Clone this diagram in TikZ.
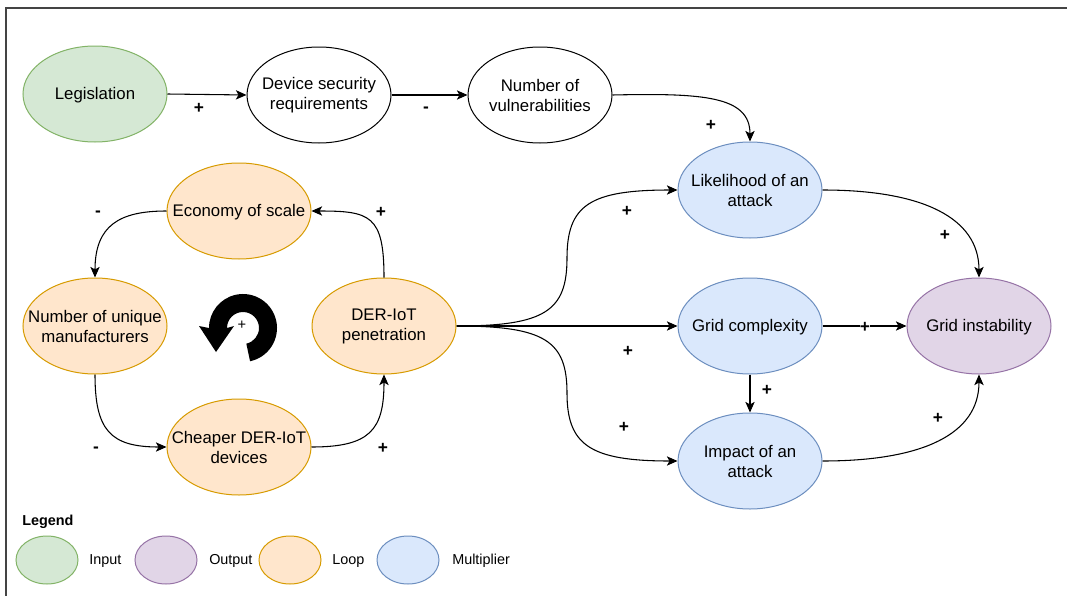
\documentclass[tikz,border=0pt]{standalone}
\usepackage{fontspec}
\setmainfont{Liberation Sans}
\usetikzlibrary{arrows.meta,shapes.geometric}
\definecolor{gfill}{HTML}{D5E8D4}\definecolor{gline}{HTML}{82B366}
\definecolor{pfill}{HTML}{E1D5E7}\definecolor{pline}{HTML}{9673A6}
\definecolor{ofill}{HTML}{FFE6CC}\definecolor{oline}{HTML}{D79B00}
\definecolor{bfill}{HTML}{DAE8FC}\definecolor{bline}{HTML}{6C8EBF}
\definecolor{framec}{HTML}{444444}
\begin{document}
\begin{tikzpicture}[x=0.75pt,y=-0.75pt,
  ell/.style={ellipse, draw, line width=0.75pt, minimum width=108pt, minimum height=72pt, inner sep=0pt},
  plainell/.style={ell, draw=black, fill=white},
  inp/.style={ell, fill=gfill, draw=gline},
  outp/.style={ell, fill=pfill, draw=pline},
  loopn/.style={ell, fill=ofill, draw=oline},
  mult/.style={ell, fill=bfill, draw=bline},
  small/.style={minimum width=46.5pt, minimum height=36pt},
  txt/.style={font=\fontsize{12.6}{15}\selectfont, align=center, inner sep=0pt},
  legtxt/.style={font=\fontsize{10.8}{13}\selectfont, inner sep=0pt, anchor=west},
  sgn/.style={font=\fontsize{13}{14}\selectfont\bfseries, inner sep=0pt},
  conn/.style={draw=black, line width=0.8pt, -{Stealth[length=8pt,width=7pt,inset=2pt]}}]
\useasboundingbox (0,0) rectangle (1067,596);
\fill[white] (0,0) rectangle (1067,596);
% frame
\draw[framec, line width=1.5pt] (1067,8) -- (6,8) -- (6,596);

% top row
\node[inp] (leg) at (95,94) {};
\node[txt] at (95,95) {Legislation};
\node[plainell] (dev) at (319,95) {};
\node[txt] at (dev) {Device security\\requirements};
\node[plainell] (vul) at (540,95) {};
\node[txt] at (vul) {Number of\\vulnerabilities};

% loop
\node[loopn] (eco) at (239,211) {};
\node[txt] at (239,212) {Economy of scale};
\node[loopn] (num) at (95,326) {};
\node[txt] at (num) {Number of unique\\manufacturers};
\node[loopn] (der) at (384,326) {};
\node[txt] at (der) {DER-IoT\\penetration};
\node[loopn] (che) at (239,447) {};
\node[txt] at (che) {Cheaper DER-IoT\\devices};

% multipliers
\node[mult] (lik) at (750,190) {};
\node[txt] at (lik) {Likelihood of an\\attack};
\node[mult] (gc) at (750,326) {};
\node[txt] at (750,327) {Grid complexity};
\node[mult] (imp) at (750,461) {};
\node[txt] at (imp) {Impact of an\\attack};
\node[outp] (gi) at (979,326) {};
\node[txt] at (979,327) {Grid instability};

% loop icon
\begin{scope}[shift={(243,328)}]
 \begin{scope}[x=0.75pt,y=0.75pt]
  \fill[black] (-78:34) arc[start angle=-78,end angle=180,radius=34] -- (-44,2) -- (-27,-24) -- (-9,2) -- (-16,0) arc[start angle=180,end angle=-78,radius=16] -- cycle;
 \end{scope}
\end{scope}
\node[font=\fontsize{11}{12}\selectfont, inner sep=0pt] (plusicon) at (242,325) {+};

% connectors
\draw[conn] (leg.east) -- (dev.west);
\draw[conn] (dev.east) -- (vul.west);
\draw[conn] (vul.east) .. controls (703,93) and (750,96) .. (lik.north);
\draw[conn] (der.north) .. controls (384,215) and (370,211) .. (eco.east);
\draw[conn] (eco.west) .. controls (120,211) and (95,225) .. (num.north);
\draw[conn] (num.south) .. controls (95,430) and (110,447) .. (che.west);
\draw[conn] (che.east) .. controls (370,447) and (384,430) .. (der.south);
\draw[conn] (der.east) .. controls (545,326) and (567,311) .. (567,258) .. controls (567,205) and (590,190) .. (lik.west);
\draw[conn] (der.east) -- (gc.west);
\draw[conn] (der.east) .. controls (545,326) and (567,341) .. (567,393) .. controls (567,445) and (590,461) .. (imp.west);
\draw[conn] (lik.east) .. controls (923,190) and (979,218) .. (gi.north);
\draw[conn] (gc.east) -- (gi.west);
\draw[conn] (gc.south) -- (imp.north);
\draw[conn] (imp.east) .. controls (923,461) and (979,434) .. (gi.south);

% signs
\node[sgn] at (199,108) {+};
\node[sgn] at (426,110) {-};
\node[sgn] at (711,125) {+};
\node[sgn] at (381,212) {+};
\node[sgn] at (98,214) {-};
\node[sgn] at (96,450) {-};
\node[sgn] at (383,448) {+};
\node[sgn] at (627,211) {+};
\node[sgn] at (628,351) {+};
\node[sgn] at (624,427) {+};
\node[sgn] at (945,235) {+};
\node[sgn, fill=white, inner sep=0.3pt] at (865,327) {+};
\node[sgn] at (767,390) {+};
\node[sgn] at (938,418) {+};

% legend
\node[font=\fontsize{10.8}{13}\selectfont\bfseries, inner sep=0pt, anchor=west] (legend) at (22,522) {Legend};
\node[inp, small] (l1) at (47,560) {};
\node[legtxt] at (89,561) {Input};
\node[outp, small] (l2) at (166,560) {};
\node[legtxt] at (209,561) {Output};
\node[loopn, small] (l3) at (290,560) {};
\node[legtxt] at (332,561) {Loop};
\node[mult, small] (l4) at (408,560) {};
\node[legtxt] at (452,561) {Multiplier};
\end{tikzpicture}
\end{document}
